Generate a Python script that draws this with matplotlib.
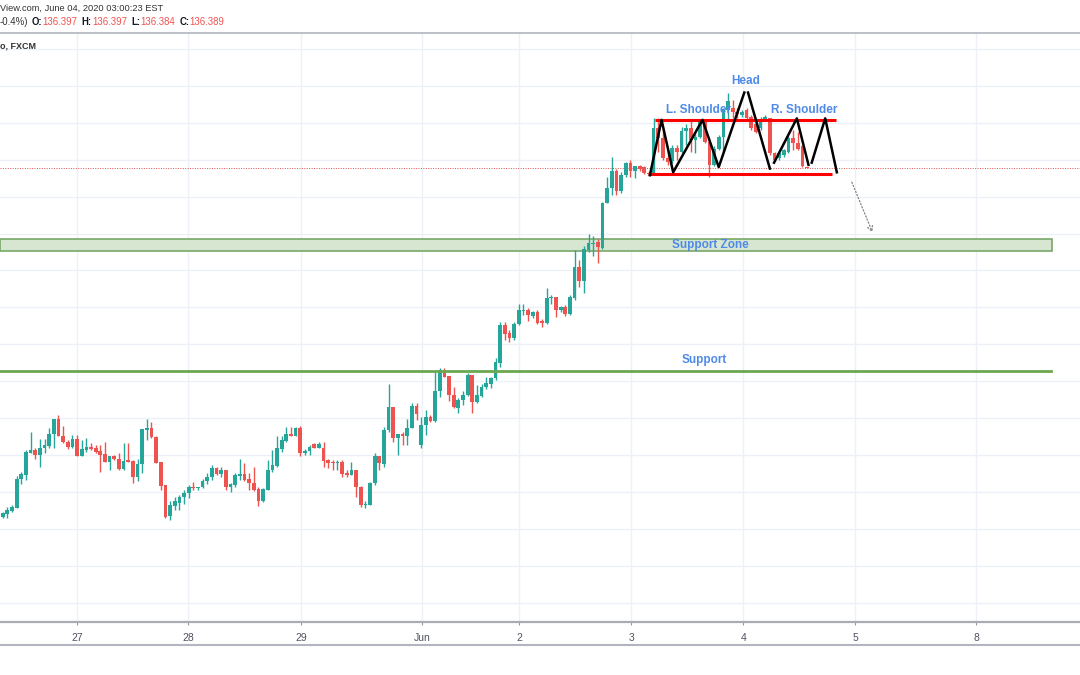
import matplotlib
matplotlib.use('Agg')
import matplotlib.pyplot as plt
from matplotlib.patches import Rectangle
from matplotlib.lines import Line2D
import numpy as np

plt.rcParams['font.family'] = ['Liberation Sans', 'DejaVu Sans']

# hourly GBPJPY candles (bar 1 = left edge)
opens = [131.66,131.70,131.74,131.78,132.17,132.23,132.53,132.57,132.50,132.59,
         132.62,132.79,132.99,132.76,132.68,132.61,132.71,132.49,132.57,132.61,
         132.59,132.55,132.51,132.41,132.48,132.45,132.31,132.43,132.42,132.20,
         132.38,132.84,132.86,132.74,132.41,132.09,131.67,131.81,131.85,131.93,
         131.98,132.07,132.05,132.06,132.14,132.20,132.32,132.24,132.30,132.07,
         132.09,132.21,132.24,132.17,132.12,132.04,131.87,132.03,132.29,132.35,
         132.58,132.69,132.78,132.76,132.87,132.52,132.55,132.65,132.60,132.60,
         132.43,132.41,132.39,132.41,132.25,132.23,132.30,132.07,131.82,131.82,
         132.12,132.49,132.38,132.84,133.15,132.73,132.78,132.76,132.87,133.16,
         132.63,132.91,133.01,132.96,133.36,133.65,133.57,133.31,133.14,133.24,
         133.31,133.58,133.22,133.30,133.42,133.46,133.54,133.75,134.26,134.15,
         134.08,134.28,134.45,134.47,134.38,134.43,134.31,134.29,134.62,134.64,
         134.46,134.50,134.41,134.63,135.04,134.85,135.28,135.36,135.38,135.31,
         135.92,136.11,136.35,136.07,136.29,136.46,136.35,136.41,136.40,136.32,
         136.31,136.93,136.79,136.52,136.48,136.66,136.60,136.89,136.93,136.77,
         136.81,137.02,136.74,136.43,136.65,136.81,137.17,137.20,137.15,137.11,
         137.17,137.08,136.99,136.93,137.04,137.06,136.59,136.52,136.56,136.61,
         136.80,136.73,136.68,136.397]
closes = [131.71,131.75,131.80,132.18,132.24,132.54,132.57,132.50,132.60,132.63,
          132.79,132.99,132.76,132.67,132.61,132.71,132.49,132.58,132.61,132.58,
          132.54,132.50,132.41,132.48,132.45,132.31,132.42,132.41,132.20,132.38,
          132.85,132.86,132.74,132.39,132.08,131.66,131.82,131.87,131.93,131.99,
          132.06,132.05,132.06,132.15,132.20,132.32,132.24,132.30,132.06,132.10,
          132.23,132.24,132.16,132.12,132.02,131.87,132.04,132.30,132.36,132.59,
          132.70,132.78,132.76,132.87,132.52,132.55,132.61,132.60,132.65,132.42,
          132.39,132.39,132.41,132.24,132.23,132.30,132.07,131.82,131.84,132.12,
          132.49,132.39,132.84,133.15,132.73,132.78,132.75,132.87,133.16,133.05,
          132.91,133.01,132.96,133.36,133.65,133.56,133.31,133.15,133.25,133.31,
          133.58,133.22,133.31,133.42,133.47,133.54,133.76,134.26,134.14,134.08,
          134.28,134.47,134.47,134.40,134.43,134.29,134.29,134.62,134.64,134.46,
          134.50,134.41,134.64,135.04,134.85,135.29,135.37,135.37,135.32,135.92,
          136.11,136.35,136.07,136.29,136.46,136.35,136.41,136.37,136.32,136.31,
          136.93,136.79,136.52,136.47,136.66,136.60,136.89,136.93,136.77,136.81,
          137.02,136.74,136.43,136.65,136.81,137.17,137.29,137.15,137.12,137.15,
          137.06,136.93,136.88,137.04,137.08,136.59,136.50,136.59,136.63,136.80,
          136.72,136.65,136.41,136.389]
highs = [131.73,131.79,131.82,132.21,132.27,132.57,132.81,132.59,132.71,132.71,
         132.86,132.99,133.04,132.89,132.70,132.77,132.77,132.70,132.73,132.66,
         132.63,132.63,132.68,132.48,132.50,132.52,132.66,132.66,132.43,132.45,
         132.85,132.99,132.94,132.75,132.41,132.09,131.87,131.93,131.96,132.02,
         132.09,132.13,132.07,132.17,132.25,132.36,132.34,132.34,132.30,132.12,
         132.25,132.45,132.39,132.25,132.33,132.06,132.05,132.43,132.56,132.76,
         132.76,132.88,132.88,132.88,132.89,132.58,132.63,132.66,132.68,132.68,
         132.44,132.43,132.43,132.43,132.30,132.41,132.30,132.08,131.87,132.13,
         132.52,132.49,132.88,133.46,133.15,132.78,132.81,132.98,133.20,133.20,
         133.02,133.11,133.04,133.62,133.68,133.68,133.57,133.42,133.27,133.36,
         133.61,133.58,133.45,133.46,133.55,133.56,133.81,134.30,134.30,134.19,
         134.30,134.54,134.54,134.49,134.45,134.46,134.34,134.76,134.67,134.64,
         134.52,134.53,134.67,135.28,135.14,135.33,135.50,135.46,135.43,135.93,
         136.27,136.54,136.37,136.34,136.47,136.49,136.41,136.43,136.41,136.35,
         137.06,137.06,136.93,136.63,136.70,136.70,136.95,136.99,137.02,136.88,
         137.05,137.05,136.79,136.68,136.83,137.20,137.40,137.31,137.20,137.17,
         137.20,137.11,137.01,137.08,137.11,137.07,136.61,136.61,136.65,136.82,
         136.90,136.88,136.70,136.397]
lows = [131.64,131.64,131.72,131.78,132.11,132.16,132.52,132.45,132.34,132.52,
        132.60,132.59,132.75,132.66,132.58,132.60,132.48,132.48,132.54,132.57,
        132.52,132.27,132.41,132.30,132.43,132.30,132.30,132.41,132.12,132.14,
        132.26,132.70,132.73,132.39,132.02,131.64,131.62,131.75,131.75,131.84,
        131.91,132.02,132.02,132.05,132.11,132.16,132.23,132.20,132.02,132.00,
        132.07,132.16,132.14,132.02,132.01,131.81,131.86,132.03,132.27,132.34,
        132.54,132.68,132.75,132.75,132.49,132.50,132.50,132.59,132.59,132.34,
        132.32,132.30,132.30,132.20,132.20,132.23,131.93,131.80,131.78,131.82,
        132.09,132.29,132.34,132.81,132.68,132.50,132.63,132.63,132.86,132.97,
        132.59,132.77,132.95,132.94,133.29,133.55,133.23,133.13,133.07,133.18,
        133.30,133.07,133.20,133.28,133.39,133.40,133.52,133.69,134.06,134.03,
        134.06,134.26,134.40,134.32,134.36,134.28,134.23,134.27,134.55,134.37,
        134.44,134.38,134.40,134.60,134.78,134.69,135.25,135.19,135.10,135.29,
        135.91,136.02,136.02,136.05,136.27,136.27,136.25,136.35,136.31,136.29,
        136.29,136.61,136.50,136.43,136.46,136.50,136.59,136.70,136.61,136.59,
        136.79,136.73,136.27,136.41,136.63,136.61,137.04,137.06,137.06,137.08,
        137.04,136.90,136.86,136.90,137.02,136.56,136.49,136.50,136.54,136.59,
        136.63,136.63,136.40,136.384]

# date ticks (bar position of each label)
tick_pos = [17.0, 40.85, 65.15, 91.2, 112.1, 136.2, 160.3, 184.4, 210.4]
tick_labels = ['27', '28', '29', 'Jun', '2', '3', '4', '5', '8']

# drawings
support_level = 133.64
zone_lo, zone_hi = 135.26, 135.42
resistance = (141.3, 180.2, 137.04)
neckline = (139.8, 179.3, 136.30)
zigzags = [
    ([140.2, 142.7, 145.2, 151.5, 155.0, 160.5], [136.29, 137.04, 136.33, 137.04, 136.40, 137.41]),
    ([161.3, 166.0], [137.41, 136.38]),
    ([166.9, 171.8, 174.3], [136.46, 137.06, 136.43]),
    ([175.0, 177.9, 180.4], [136.46, 137.06, 136.33]),
]
arrow_from = (183.4, 136.23)
arrow_to = (188.3, 135.48)
labels = [('Head', 160.85, 137.57), ('L. Shoulder', 150.7, 137.17),
          ('R. Shoulder', 173.3, 137.17), ('Support Zone', 153.3, 135.34),
          ('Support', 151.8, 133.79)]

o = np.array(opens); c = np.array(closes)
h = np.maximum(np.array(highs), np.maximum(o, c))
l = np.minimum(np.array(lows), np.minimum(o, c))
idx = np.arange(1, len(o) + 1)

fig = plt.figure(figsize=(10.8, 6.75), dpi=100)
ax = fig.add_axes([0, 53 / 675, 1, 589 / 675])
ax.set_xlim(0.42, 232.7)
ax.set_ylim(130.236, 138.217)

ax.set_yticks(np.arange(130.5, 138.01, 0.5))
ax.set_xticks(tick_pos)
ax.set_xticklabels(tick_labels, fontsize=7.5, color='#50535e')
ax.tick_params(axis='y', left=False, labelleft=False)
ax.tick_params(axis='x', length=2.5, color='#9598a1', pad=5.5)
ax.grid(color='#edf0f6', lw=1, zorder=0)
ax.set_axisbelow(True)
for s in ['left', 'right']:
    ax.spines[s].set_visible(False)
ax.spines['bottom'].set_color('#a9acb5')
ax.spines['bottom'].set_linewidth(1.6)
ax.spines['top'].set_color('#b2b5be')
ax.spines['top'].set_linewidth(1.2)

# support zone + support line
ax.add_patch(Rectangle((0.42, zone_lo), 226.6 - 0.42, zone_hi - zone_lo,
                       facecolor='#d7e6d1', edgecolor='#78a868', lw=1.2, zorder=2))
ax.plot([0.42, 226.4], [support_level, support_level], color='#6aa84f', lw=2, zorder=5)

# last price line
ax.axhline(c[-1], color='#d9534f', lw=0.7, ls=(0, (1, 1.5)), zorder=1.5)

# candles
colors = np.where(c >= o, '#26a69a', '#ef5350')
ax.vlines(idx, l, h, colors=colors, lw=1, zorder=3)
body = c - o
heights = np.where(np.abs(body) < 0.012, 0.012, np.abs(body))
bottoms = np.minimum(o, c)
ax.bar(idx, heights, bottom=bottoms, width=0.8, color=colors, lw=0, zorder=4)

# pattern lines
for x0, x1, y in [resistance, neckline]:
    ax.plot([x0, x1], [y, y], color='#ff0000', lw=2.2, zorder=6, solid_capstyle='butt')
for xs, ys in zigzags:
    ax.plot(xs, ys, color='black', lw=1.8, zorder=7)
ax.annotate('', xy=arrow_to, xytext=arrow_from,
            arrowprops=dict(arrowstyle='->', color='#808080', lw=0.9, linestyle=':',
                            mutation_scale=9), zorder=7)

for txt, x, y in labels:
    ax.text(x, y, txt, ha='center', va='center', fontsize=8.5, fontweight='bold',
            color='#4f8ae8', zorder=8)

# header
fig.text(0.0, 1 - 8 / 675, 'View.com, June 04, 2020 03:00:23 EST', va='center',
         fontsize=6.7, color='#333333')
fig.add_artist(Line2D([0, 1], [1 - 645 / 675] * 2, color='#b2b5be', lw=1.5))
fig.text(0.0, 1 - 46 / 675, 'o, FXCM', va='center', fontsize=6.5,
         fontweight='bold', color='#333333')

fig.canvas.draw()
r = fig.canvas.get_renderer()
pieces = [('-0.4%)', '#333333', 'normal', 3), ('O:', '#131722', 'bold', 0.5),
          ('%.3f' % o[-1], '#ef5350', 'normal', 4), ('H:', '#131722', 'bold', 0.5),
          ('%.3f' % h[-1], '#ef5350', 'normal', 4), ('L:', '#131722', 'bold', 0.5),
          ('%.3f' % l[-1], '#ef5350', 'normal', 4), ('C:', '#131722', 'bold', 0.5),
          ('%.3f' % c[-1], '#ef5350', 'normal', 0)]
xpos = 0.0
for s, col, wt, gap in pieces:
    t = fig.text(xpos, 1 - 22 / 675, s, va='center', fontsize=6.9, color=col, fontweight=wt)
    bb = t.get_window_extent(renderer=r)
    xpos += (bb.width + gap) / fig.bbox.width

fig.savefig('out.png', dpi=100)
